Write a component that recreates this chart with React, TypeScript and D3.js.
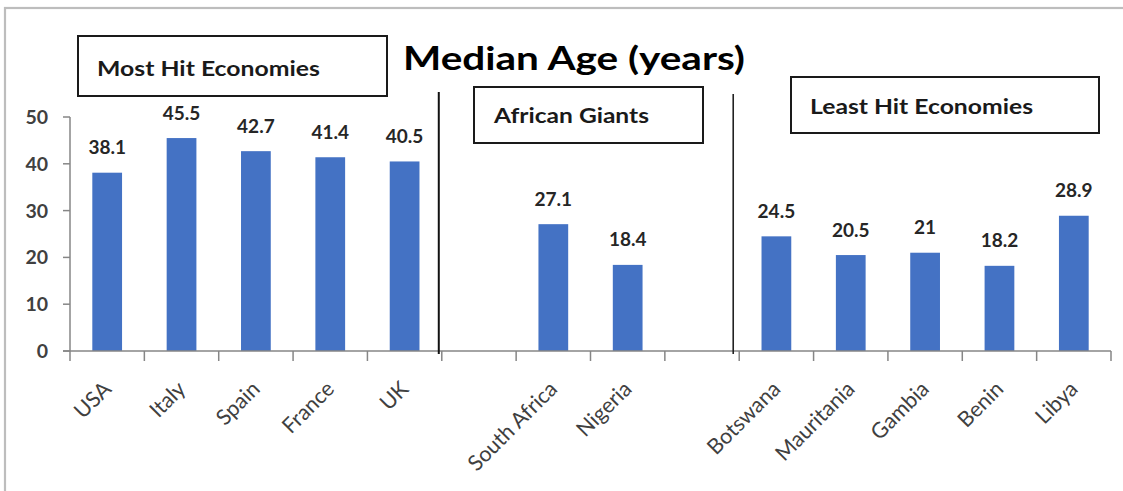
import React from "react";
import * as d3 from "d3";

const categories: string[] = ["USA", "Italy", "Spain", "France", "UK", "", "South Africa", "Nigeria", "", "Botswana", "Mauritania", "Gambia", "Benin", "Libya"];
const values: (number | null)[] = [38.1, 45.5, 42.7, 41.4, 40.5, null, 27.1, 18.4, null, 24.5, 20.5, 21, 18.2, 28.9];
const valueLabels: string[] = ["38.1", "45.5", "42.7", "41.4", "40.5", "", "27.1", "18.4", "", "24.5", "20.5", "21", "18.2", "28.9"];
const yTicks: number[] = [0, 10, 20, 30, 40, 50];
const title = "Median Age (years)";
const groupLabels: string[] = ["Most Hit Economies", "African Giants", "Least Hit Economies"];

const W = 1123;
const H = 491;
const FONT = "Lato, 'Open Sans', 'Liberation Sans', sans-serif";

export default function App() {
  const idx = categories.map((_, i) => String(i));
  const x = d3.scaleBand<string>().domain(idx).range([70, 1111]).paddingInner(0.6).paddingOuter(0.3);
  const step = x.step();
  const slotStart = (i: number) => 70 + i * step;
  const y = d3.scaleLinear().domain([0, 50]).range([351, 117]);
  const axisColor = "#868686";

  const boxes = [
    { x: 78, y: 36, w: 309, h: 60, tx: 97, ty: 76, tl: 223, label: groupLabels[0] },
    { x: 474, y: 87, w: 229, h: 56, tx: 494, ty: 123, tl: 155, label: groupLabels[1] },
    { x: 791, y: 77, w: 308, h: 56, tx: 810, ty: 114, tl: 223, label: groupLabels[2] },
  ];

  return (
    <div style={{ position: "absolute", left: 0, top: 0 }}>
      <svg width={W} height={H} style={{ display: "block", background: "#fff" }}>
        <rect x={5} y={8} width={W + 20} height={H + 20} fill="#fff" stroke="#bdbdbd" strokeWidth={2.2} />
        {/* title */}
        <text x={403} y={70} fontFamily={FONT} fontWeight={700} fontSize={33} fill="#000" textLength={342} lengthAdjust="spacingAndGlyphs">
          {title}
        </text>
        {/* y axis */}
        <line x1={70} x2={70} y1={y(50)} y2={y(0)} stroke={axisColor} strokeWidth={1.5} />
        {yTicks.map((t) => (
          <g key={t}>
            <line x1={63} x2={70} y1={y(t)} y2={y(t)} stroke={axisColor} strokeWidth={1.5} />
            <text x={48} y={y(t)} dy="0.36em" textAnchor="end" fontFamily={FONT} fontWeight={700} fontSize={19.5} fill="#404040">
              {t}
            </text>
          </g>
        ))}
        {/* bars */}
        {values.map((v, i) =>
          v == null ? null : (
            <rect key={i} x={x(String(i))} y={y(v)} width={x.bandwidth()} height={y(0) - y(v)} fill="#4472C4" />
          )
        )}
        {/* x axis */}
        <line x1={63} x2={1111} y1={y(0)} y2={y(0)} stroke={axisColor} strokeWidth={1.5} />
        {d3.range(categories.length + 1).map((i) => (
          <line key={i} x1={slotStart(i)} x2={slotStart(i)} y1={y(0)} y2={y(0) + 10} stroke={axisColor} strokeWidth={1.5} />
        ))}
        {/* value labels */}
        {values.map((v, i) =>
          v == null ? null : (
            <text key={i} x={(x(String(i)) as number) + x.bandwidth() / 2} y={y(v) - 18.5} textAnchor="middle" fontFamily={FONT} fontWeight={700} fontSize={19} fill="#262626">
              {valueLabels[i]}
            </text>
          )
        )}
        {/* category labels */}
        {categories.map((c, i) =>
          c === "" ? null : (
            <text
              key={i}
              transform={`translate(${(x(String(i)) as number) + x.bandwidth() / 2},${y(0) + 34}) rotate(-45)`}
              textAnchor="end"
              dy="0.35em"
              fontFamily={FONT}
              fontSize={21.5}
              fill="#404040"
            >
              {c}
            </text>
          )
        )}
        {/* dividers */}
        <line x1={slotStart(5) - 3} x2={slotStart(5) - 3} y1={92} y2={y(0) + 3} stroke="#111" strokeWidth={2} />
        <line x1={slotStart(9) - 6} x2={slotStart(9) - 6} y1={94} y2={y(0) + 3} stroke="#222" strokeWidth={1.6} />
        {/* group boxes */}
        {boxes.map((b, i) => (
          <g key={i}>
            <rect x={b.x} y={b.y} width={b.w} height={b.h} fill="#fff" stroke="#1a1a1a" strokeWidth={2} />
            <text x={b.tx} y={b.ty} fontFamily={FONT} fontWeight={700} fontSize={20} fill="#1a1a1a" textLength={b.tl} lengthAdjust="spacingAndGlyphs">
              {b.label}
            </text>
          </g>
        ))}
      </svg>
    </div>
  );
}
